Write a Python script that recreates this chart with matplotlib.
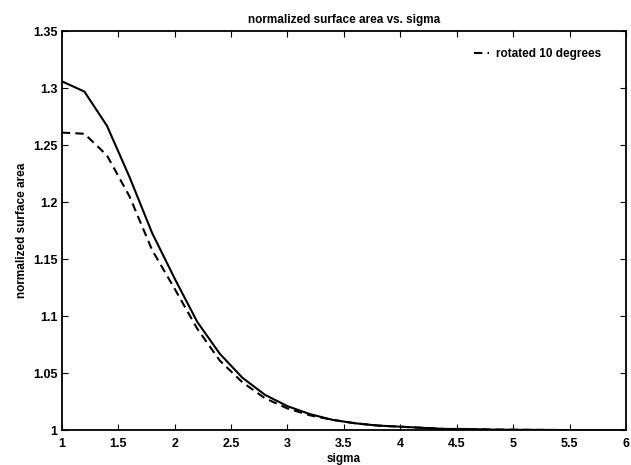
import numpy as np
import matplotlib
matplotlib.use('Agg')
import matplotlib.pyplot as plt

plt.rcParams['font.family'] = ['Liberation Sans', 'DejaVu Sans']

sigma = [1.0, 1.2, 1.4, 1.6, 1.8, 2.0, 2.2, 2.4, 2.6, 2.8, 3.0, 3.2, 3.4,
         3.6, 3.8, 4.0, 4.2, 4.4, 4.6, 4.8, 5.0, 5.2, 5.4, 5.6, 5.8, 6.0]
area_orig = [1.306, 1.297, 1.267, 1.222, 1.173, 1.133, 1.095, 1.067, 1.046,
             1.031, 1.021, 1.014, 1.009, 1.006, 1.004, 1.003, 1.002, 1.001,
             1.001, 1.0005, 1.0003, 1.0002, 1.0001, 1.0, 1.0, 1.0]
area_rot = [1.261, 1.260, 1.241, 1.205, 1.158, 1.124, 1.089, 1.061, 1.042,
            1.028, 1.019, 1.013, 1.009, 1.006, 1.004, 1.003, 1.002, 1.001,
            1.001, 1.0005, 1.0003, 1.0002, 1.0001, 1.0, 1.0, 1.0]

xticks = [1, 1.5, 2, 2.5, 3, 3.5, 4, 4.5, 5, 5.5, 6]
xtick_labels = ['1', '1.5', '2', '2.5', '3', '3.5', '4', '4.5', '5', '5.5', '6']
yticks = [1, 1.05, 1.1, 1.15, 1.2, 1.25, 1.3, 1.35]
ytick_labels = ['1', '1.05', '1.1', '1.15', '1.2', '1.25', '1.3', '1.35']

fig = plt.figure(figsize=(6.31, 4.65), dpi=100)
ax = fig.add_axes([0.098, 0.075, 0.894, 0.858])

ax.plot(sigma, area_orig, color='black', lw=1.5)
line_rot, = ax.plot(sigma, area_rot, color='black', lw=1.5, ls=(0, (4, 2.5)))

ax.set_xlim(1, 6)
ax.set_ylim(1, 1.35)
ax.set_xticks(xticks)
ax.set_xticklabels(xtick_labels, fontweight='bold')
ax.set_yticks(yticks)
ax.set_yticklabels(ytick_labels, fontweight='bold')
ax.tick_params(direction='in', top=True, right=True, length=4, labelsize=9)
ax.tick_params(axis='x', pad=6)
ax.tick_params(axis='y', pad=3)
for s in ax.spines.values():
    s.set_linewidth(1.3)

ax.set_title('normalized surface area vs. sigma', fontsize=8.5, fontweight='bold', pad=6)
ax.set_xlabel('sigma', fontsize=8.5, fontweight='bold', labelpad=2)
ax.set_ylabel('normalized surface area', fontsize=8.5, fontweight='bold', labelpad=4)

ax.legend([line_rot], ['rotated 10 degrees'], loc='upper right',
          bbox_to_anchor=(0.975, 0.985), frameon=False,
          prop={'size': 8.5, 'weight': 'bold'},
          handlelength=1.3, handletextpad=0.6)

fig.savefig('out.png', dpi=100)
